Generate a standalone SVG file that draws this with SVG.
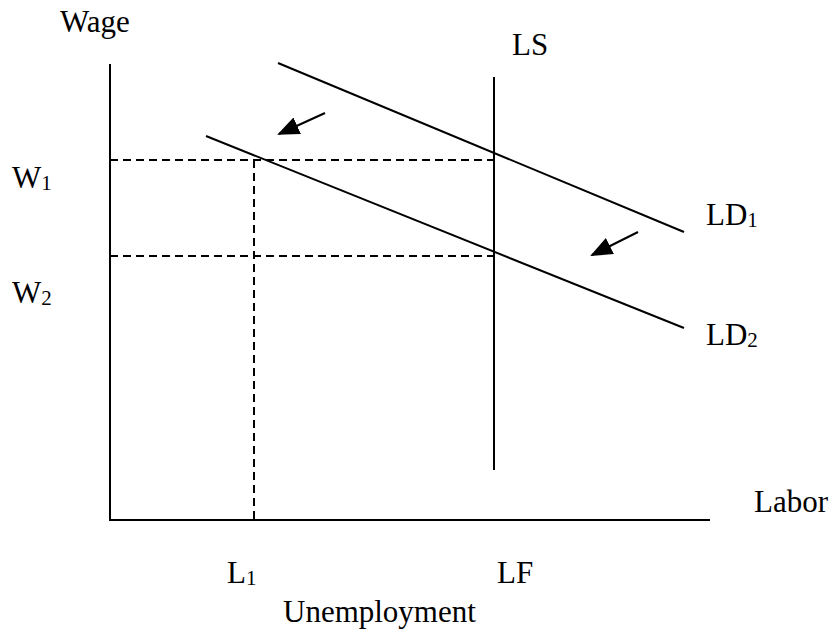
<svg xmlns="http://www.w3.org/2000/svg" width="832" height="631" viewBox="0 0 832 631">
<style>
.t{font-family:"Liberation Serif","Times New Roman",serif;font-size:31px;fill:#000}
.s{font-size:21px}
.ln{stroke:#000;stroke-width:2;fill:none}
.d{stroke:#000;stroke-width:2;stroke-dasharray:8 5;fill:none}
</style>
<defs>
<marker id="ah2" markerWidth="22" markerHeight="18" refX="20" refY="9" orient="auto" markerUnits="userSpaceOnUse" viewBox="0 0 22 18">
<path d="M0,0 L22,9 L0,18 z" fill="#000"/>
</marker>
</defs>
<rect width="832" height="631" fill="#fff"/>
<g id="axes">
<line class="ln" x1="110" y1="64" x2="110" y2="521"/>
<line class="ln" x1="109" y1="520" x2="710" y2="520"/>
</g>
<g id="guides">
<line class="d" x1="110" y1="160" x2="494" y2="160"/>
<line class="d" x1="110" y1="256" x2="494" y2="256"/>
<line class="d" x1="254" y1="160" x2="254" y2="520"/>
</g>
<g id="connectors">
<line id="LS" class="ln" x1="494" y1="77" x2="494" y2="470"/>
<line id="LD1" class="ln" x1="278" y1="63" x2="684" y2="232"/>
<line id="LD2" class="ln" x1="206" y1="136" x2="684" y2="328"/>
<line class="ln" x1="325" y1="113" x2="279" y2="134" marker-end="url(#ah2)"/>
<line class="ln" x1="638" y1="232" x2="592" y2="255" marker-end="url(#ah2)"/>
</g>
<g id="labels">
<text class="t" x="60" y="32">Wage</text>
<text class="t" x="512" y="55">LS</text>
<text class="t" x="12" y="188">W<tspan class="s" dy="2">1</tspan></text>
<text class="t" x="12" y="303">W<tspan class="s" dy="2">2</tspan></text>
<text class="t" x="706" y="225">LD<tspan class="s" dy="2">1</tspan></text>
<text class="t" x="706" y="345">LD<tspan class="s" dy="2">2</tspan></text>
<text class="t" x="754" y="512">Labor</text>
<text class="t" x="227" y="583">L<tspan class="s" dy="2">1</tspan></text>
<text class="t" x="497" y="583">LF</text>
<text class="t" x="283" y="622">Unemployment</text>
</g>
</svg>
